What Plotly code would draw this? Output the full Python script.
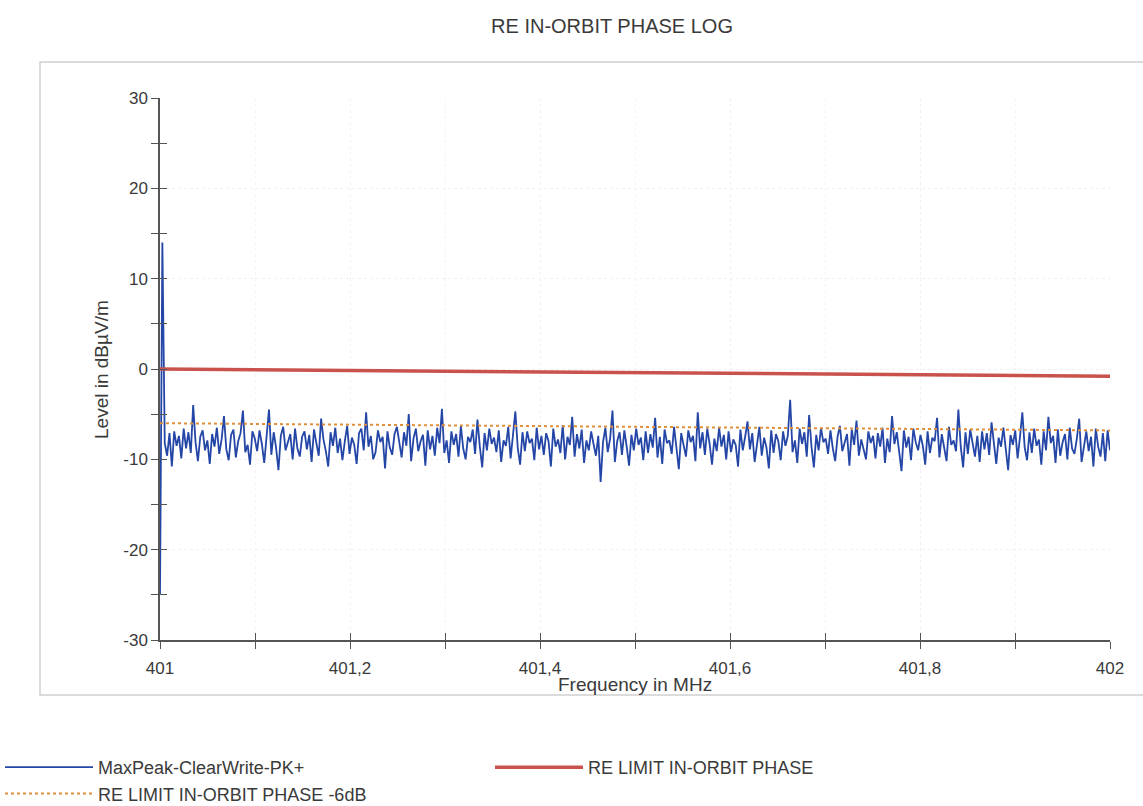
import numpy as np
import plotly.graph_objects as go

# ---------------- data ----------------
f_start, f_stop = 401.0, 402.0

start_levels = [-25.0, 14.0]
noise_levels = [
    -8.2, -9.6, -7.1, -10.8, -6.9, -8.5, -7.4, -9.9, -6.6, -8.8, -7.0, -9.3, -4.0, -8.1, -10.2, -7.5, -6.8, -9.0, -7.9, -10.5,
    -7.2, -8.6, -6.5, -9.4, -7.8, -5.2, -8.9, -10.1, -7.3, -6.7, -9.8, -8.0, -7.1, -4.6, -9.2, -8.4, -10.6, -6.9, -7.7, -9.1,
    -6.8, -8.3, -10.4, -7.6, -4.5, -9.5, -7.0, -8.7, -11.2, -7.4, -6.4, -9.0, -8.1, -7.2, -10.0, -6.6, -8.8, -9.7, -7.5, -6.9,
    -8.9, -7.3, -10.3, -6.7, -8.2, -9.6, -5.5, -7.8, -9.1, -10.8, -7.0, -8.5, -6.5, -9.3, -7.7, -10.1, -8.0, -6.3, -9.4, -7.6,
    -8.4, -10.5, -7.1, -6.6, -9.0, -4.8, -8.6, -7.4, -10.0, -9.2, -6.8, -8.1, -7.5, -11.0, -6.9, -8.7, -9.5, -7.2, -6.4, -8.3,
    -9.8, -7.0, -8.5, -5.0, -10.2, -7.7, -6.6, -9.1, -8.0, -7.3, -10.7, -6.8, -8.9, -7.4, -9.6, -6.5, -8.2, -4.4, -9.3, -7.9,
    -10.4, -6.9, -8.4, -7.2, -9.7, -6.3, -8.8, -10.0, -7.5, -8.1, -6.7, -9.4, -5.6, -8.6, -10.9, -7.1, -9.0, -6.6, -8.3, -7.6,
    -9.2, -6.8, -10.3, -7.9, -8.5, -6.4, -9.9, -7.3, -4.7, -8.7, -10.6, -7.0, -9.1, -6.9, -8.2, -7.7, -10.1, -6.5, -8.9, -7.4,
    -9.5, -7.1, -8.0, -10.8, -6.6, -8.6, -7.8, -9.3, -6.2, -10.0, -7.5, -8.4, -5.3, -9.7, -7.2, -8.8, -6.7, -10.4, -7.9, -9.0,
    -6.9, -8.3, -9.6, -7.4, -12.5, -8.1, -6.5, -9.2, -7.7, -4.6, -10.3, -8.0, -7.0, -9.5, -6.8, -8.6, -10.7, -7.3, -9.0, -6.6,
    -8.4, -7.6, -10.1, -6.9, -9.3, -7.2, -8.7, -5.4, -9.8, -7.5, -10.5, -6.7, -8.2, -7.9, -9.4, -6.4, -8.9, -11.1, -7.1, -8.5,
    -9.7, -6.8, -8.1, -7.4, -10.2, -4.8, -8.8, -7.0, -9.5, -6.6, -8.3, -10.6, -7.7, -9.1, -6.5, -8.6, -7.3, -10.0, -6.9, -9.2,
    -7.8, -8.4, -10.8, -6.7, -9.0, -7.5, -5.8, -8.9, -7.1, -10.3, -8.2, -6.4, -9.6, -7.6, -8.7, -11.0, -6.8, -9.3, -7.2, -8.0,
    -10.1, -6.9, -8.5, -7.4, -3.4, -9.2, -7.9, -10.4, -6.6, -8.3, -7.0, -9.7, -5.1, -8.6, -10.9, -7.3, -9.0, -6.5, -8.1, -7.7,
    -9.4, -6.8, -8.8, -10.2, -7.5, -6.3, -9.1, -8.0, -7.2, -10.7, -6.7, -8.4, -5.7, -9.6, -7.8, -8.9, -10.0, -6.9, -8.2, -7.4,
    -9.9, -7.1, -8.6, -6.5, -10.4, -7.7, -9.2, -5.2, -8.3, -7.0, -9.5, -11.3, -6.8, -8.7, -7.5, -10.1, -6.6, -8.1, -9.0, -7.3,
    -8.5, -10.6, -6.9, -9.3, -7.6, -8.0, -5.4, -9.8, -7.2, -8.8, -10.2, -6.4, -8.4, -7.9, -9.1, -4.5, -8.6, -10.9, -7.0, -9.4,
    -6.7, -8.2, -9.7, -7.4, -10.3, -6.9, -8.9, -7.1, -9.5, -5.9, -8.0, -10.5, -7.6, -8.6, -6.5, -9.2, -11.2, -7.3, -8.4, -6.8,
    -9.9, -7.5, -4.8, -8.7, -10.1, -7.0, -9.3, -6.6, -8.5, -7.8, -10.6, -6.9, -9.0, -5.3, -8.2, -7.4, -10.4, -6.7, -9.6, -8.1,
    -7.2, -10.0, -6.5, -8.8, -9.4, -7.7, -5.5, -10.3, -8.3, -6.9, -9.1, -7.5, -10.8, -6.6, -8.6, -9.7, -7.1, -10.2, -6.8, -9.0,
]
trace_levels = start_levels + noise_levels
trace_freq = np.linspace(f_start, f_stop, len(trace_levels))

limit_freq = [401.0, 402.0]
limit_levels = [0.0, -0.8]
limit6_levels = [-6.0, -6.8]

x_tickvals = [401.0, 401.2, 401.4, 401.6, 401.8, 402.0]
x_ticktext = ["401", "401,2", "401,4", "401,6", "401,8", "402"]
y_tickvals = [-30, -20, -10, 0, 10, 20, 30]
y_ticktext = ["-30", "-20", "-10", "0", "10", "20", "30"]

title_text = "RE IN-ORBIT PHASE LOG"
x_title = "Frequency in MHz"
y_title = "Level in dBµV/m"

FONT = "Liberation Sans, Arial, sans-serif"
TXT = "#3a3a3a"
AX = "#555555"
W, H = 1143, 806
PL, PR, PT, PB = 160, 1110, 98, 640   # plot area in pixels
PW, PH = PR - PL, PB - PT

fig = go.Figure()
fig.add_trace(go.Scatter(
    x=trace_freq, y=trace_levels, mode="lines", name="MaxPeak-ClearWrite-PK+",
    line=dict(color="#2446a6", width=1.8), legend="legend"))
fig.add_trace(go.Scatter(
    x=limit_freq, y=limit6_levels, mode="lines", name="RE LIMIT IN-ORBIT PHASE -6dB",
    line=dict(color="#e0903a", width=2, dash="dot"), legend="legend"))
fig.add_trace(go.Scatter(
    x=limit_freq, y=limit_levels, mode="lines", name="RE LIMIT IN-ORBIT PHASE",
    line=dict(color="#c9524c", width=3.5), legend="legend2"))
# invisible helper trace so the overlay axes (for crossing ticks) are drawn
fig.add_trace(go.Scatter(x=limit_freq, y=limit_levels, xaxis="x2", yaxis="y2",
                         mode="lines", line=dict(width=0), showlegend=False,
                         hoverinfo="skip"))

axis_common = dict(showline=True, linecolor=AX, linewidth=1.5, zeroline=False,
                   tickcolor=AX, tickwidth=1.3, ticklen=7, automargin=False)

fig.update_layout(
    width=W, height=H,
    margin=dict(l=PL, r=W - PR, t=PT, b=H - PB, autoexpand=False),
    paper_bgcolor="white", plot_bgcolor="white",
    font=dict(family=FONT, color=TXT, size=16),
    title=dict(text=title_text, x=612 / W, xanchor="center",
               y=1 - 26 / H, yanchor="middle", font=dict(size=20, color=TXT)),
    xaxis=dict(range=[f_start, f_stop], tickvals=x_tickvals, ticktext=x_ticktext,
               ticks="outside", showgrid=True, gridcolor="#f1f1f1", griddash="dot",
               ticklabelstandoff=5,
               minor=dict(dtick=0.1, tick0=401, ticks="outside", ticklen=7,
                          tickcolor=AX, tickwidth=1.3, showgrid=True,
                          gridcolor="#f4f4f4", griddash="dot"),
               tickfont=dict(size=17, color=TXT),
               **axis_common),
    yaxis=dict(range=[-30, 30], tickvals=y_tickvals, ticktext=y_ticktext,
               ticks="outside", showgrid=True, gridcolor="#f1f1f1", griddash="dot",
               minor=dict(dtick=5, tick0=0, ticks="outside", ticklen=7,
                          tickcolor=AX, tickwidth=1.3, showgrid=False),
               tickfont=dict(size=17, color=TXT),
               **axis_common),
    xaxis2=dict(range=[f_start, f_stop], overlaying="x", side="bottom", anchor="y2",
                tickvals=x_tickvals, showticklabels=False, ticks="inside",
                ticklen=7, tickcolor=AX, tickwidth=1.3, showgrid=False, zeroline=False,
                showline=False, automargin=False,
                minor=dict(dtick=0.1, tick0=401, ticks="inside", ticklen=7,
                           tickcolor=AX, tickwidth=1.3)),
    yaxis2=dict(range=[-30, 30], overlaying="y", side="left", anchor="x2",
                tickvals=y_tickvals, showticklabels=False, ticks="inside",
                ticklen=7, tickcolor=AX, tickwidth=1.3, showgrid=False, zeroline=False,
                showline=False, automargin=False,
                minor=dict(dtick=5, tick0=0, ticks="inside", ticklen=7,
                           tickcolor=AX, tickwidth=1.3)),
    legend=dict(xref="container", yref="container", x=0.0, xanchor="left",
                y=1 - 749 / H, yanchor="top",
                orientation="v", itemwidth=88, font=dict(size=18, color=TXT),
                bgcolor="rgba(0,0,0,0)", tracegroupgap=0),
    legend2=dict(xref="container", yref="container", x=490 / W, xanchor="left",
                 y=1 - 749 / H, yanchor="top",
                 orientation="v", itemwidth=88, font=dict(size=18, color=TXT),
                 bgcolor="rgba(0,0,0,0)"),
    showlegend=True,
    annotations=[
        dict(text=x_title, xref="paper", yref="paper",
             x=(635 - PL) / PW, y=(PB - 684) / PH, xanchor="center", yanchor="middle",
             showarrow=False, font=dict(size=19, color=TXT)),
        dict(text=y_title, xref="paper", yref="paper", textangle=-90,
             x=(101 - PL) / PW, y=(PB - 370) / PH, xanchor="center", yanchor="middle",
             showarrow=False, font=dict(size=19, color=TXT)),
    ],
    shapes=[dict(type="rect", xref="paper", yref="paper",
                 x0=(40 - PL) / PW, x1=(1150 - PL) / PW,
                 y0=(PB - 695) / PH, y1=(PB - 62) / PH,
                 line=dict(color="#cfcfcf", width=1.5), layer="below")],
)

fig.write_html("out.html")
